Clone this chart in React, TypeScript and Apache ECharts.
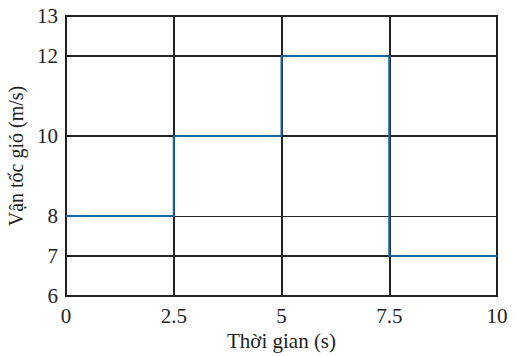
import React, { useEffect, useRef } from "react";
import * as echarts from "echarts";

const xTicks = [0, 2.5, 5, 7.5, 10];
const yTickLabels = [6, 7, 8, 10, 12, 13];
const yGridLines = [7, 8, 10, 12];
const stepX = [0, 2.5, 5, 7.5, 10];
const windSpeed = [8, 10, 12, 7, 7];

const FONT = "Liberation Serif";

export default function App() {
  const ref = useRef<HTMLDivElement>(null);
  useEffect(() => {
    if (!ref.current) return;
    const chart = echarts.init(ref.current, undefined, { renderer: "svg" });
    chart.setOption({
      animation: false,
      backgroundColor: "#fff",
      textStyle: { fontFamily: FONT },
      grid: {
        left: 66,
        right: 20,
        top: 16,
        bottom: 60,
        containLabel: false,
        outerBoundsMode: "none",
        show: true,
        borderColor: "#222",
        borderWidth: 2,
        backgroundColor: "transparent",
      },
      xAxis: {
        type: "value",
        min: 0,
        max: 10,
        interval: 2.5,
        name: "Thời gian (s)",
        nameLocation: "middle",
        nameGap: 32,
        nameTextStyle: { fontFamily: FONT, fontSize: 21, color: "#222" },
        axisLine: { show: true, lineStyle: { color: "#222", width: 2 } },
        axisTick: { show: false },
        axisLabel: {
          fontFamily: FONT,
          fontSize: 21,
          color: "#222",
          margin: 9,
          formatter: (v: number) => (xTicks.includes(v) ? String(v) : ""),
        },
        splitLine: { show: true, lineStyle: { color: "#222", width: 2 } },
      },
      yAxis: {
        type: "value",
        min: 6,
        max: 13,
        interval: 1,
        name: "Vận tốc gió (m/s)",
        nameLocation: "middle",
        nameGap: 31,
        nameTextStyle: { fontFamily: FONT, fontSize: 20, color: "#222" },
        axisLine: { show: true, lineStyle: { color: "#222", width: 2 } },
        axisTick: { show: false },
        axisLabel: {
          fontFamily: FONT,
          fontSize: 21,
          color: "#222",
          margin: 8,
          formatter: (v: number) => (yTickLabels.includes(v) ? String(v) : ""),
        },
        splitLine: { show: false },
      },
      series: [
        {
          type: "line",
          data: [],
          z: 1,
          silent: true,
          markLine: {
            silent: true,
            symbol: "none",
            label: { show: false },
            data: yGridLines.map((y) => ({
              yAxis: y,
              lineStyle: { color: "#222", width: y === 8 ? 1 : 2, type: "solid" },
            })),
          },
        },
        {
          type: "line",
          step: "end",
          z: 5,
          showSymbol: false,
          symbol: "none",
          data: stepX.map((x, i) => [x, windSpeed[i]]),
          lineStyle: { color: "#1266a2", width: 2 },
        },
      ],
    });
    return () => chart.dispose();
  }, []);
  return (
    <div
      ref={ref}
      style={{ position: "absolute", left: 0, top: 0, width: 517, height: 356 }}
    />
  );
}
